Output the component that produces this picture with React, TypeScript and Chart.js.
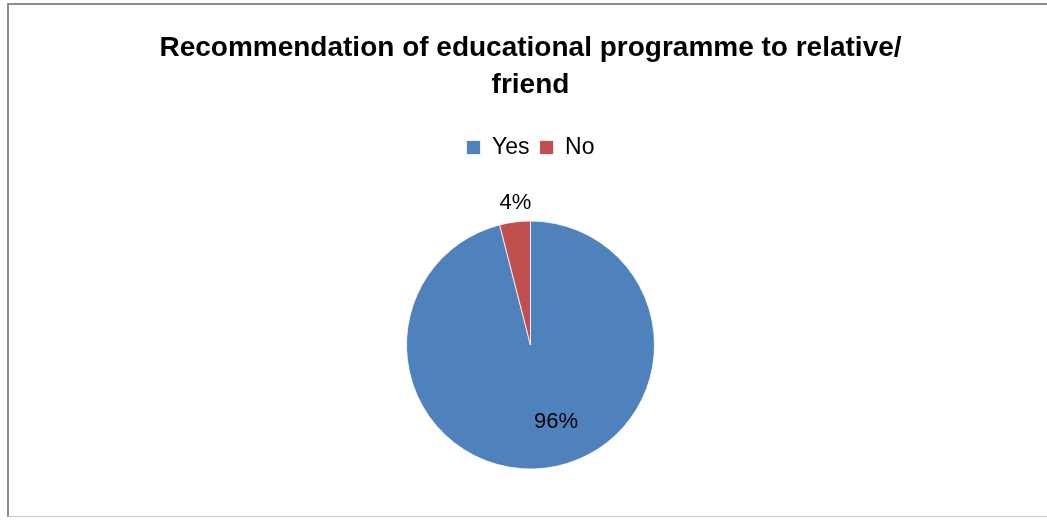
import React, { useEffect, useRef } from "react";
import { Chart, registerables } from "chart.js";

Chart.register(...registerables);

const categories = ["Yes", "No"];
const values = [96, 4];
const valueLabels = ["96%", "4%"];
const colors = ["#4F81BD", "#C0504D"];
const titleLines = ["Recommendation of educational programme to relative/", "friend"];

const FONT = "'Liberation Sans', Arial, sans-serif";

const labelPlugin = {
  id: "sliceLabels",
  afterDatasetsDraw(chart: any) {
    const { ctx } = chart;
    const meta = chart.getDatasetMeta(0);
    ctx.save();
    ctx.font = `22px ${FONT}`;
    ctx.fillStyle = "#000";
    ctx.textAlign = "center";
    ctx.textBaseline = "middle";
    meta.data.forEach((arc: any, i: number) => {
      const { x, y, startAngle, endAngle, outerRadius } = arc.getProps(
        ["x", "y", "startAngle", "endAngle", "outerRadius"],
        true
      );
      const mid = (startAngle + endAngle) / 2;
      let lx: number, ly: number;
      if (values[i] < 10) {
        const r = outerRadius + 20;
        lx = x + Math.cos(mid) * r + 3;
        ly = y + Math.sin(mid) * r + 1;
      } else {
        const r = outerRadius * 0.62;
        lx = x + Math.cos(mid) * r + outerRadius * 0.12 + 1;
        ly = y + Math.sin(mid) * r + 1;
      }
      ctx.fillText(valueLabels[i], lx, ly);
    });
    ctx.restore();
  },
};

export default function App() {
  const ref = useRef<HTMLCanvasElement | null>(null);
  useEffect(() => {
    if (!ref.current) return;
    const chart = new Chart(ref.current, {
      type: "pie",
      data: {
        labels: categories,
        datasets: [
          {
            data: values,
            backgroundColor: colors,
            borderColor: "#ffffff",
            borderWidth: 0.8,
          },
        ],
      },
      options: {
        responsive: false,
        animation: false,
        radius: 124,
        layout: { padding: { left: 14, bottom: 0 } },
        plugins: {
          tooltip: { enabled: false },
          title: {
            display: true,
            text: titleLines,
            color: "#000",
            font: { family: FONT, weight: "bold", size: 28, lineHeight: "37px" },
            padding: { top: 30, bottom: 22 },
          },
          legend: {
            display: true,
            position: "top",
            labels: {
              boxWidth: 14,
              boxHeight: 14,
              color: "#000",
              font: { family: FONT, size: 23 },
              padding: 10,
            },
          },
        },
      },
      plugins: [labelPlugin],
    } as any);
    return () => chart.destroy();
  }, []);

  return (
    <div
      style={{
        position: "fixed",
        left: 0,
        top: 0,
        width: 1047,
        height: 521,
        background: "#fff",
        overflow: "hidden",
      }}
    >
      <div
        style={{
          position: "absolute",
          left: 7,
          top: 3,
          width: 1045,
          height: 514,
          borderLeft: "2px solid #8c8c8c",
          borderTop: "2px solid #8c8c8c",
          borderBottom: "1px solid #cdcdcd",
          boxSizing: "border-box",
        }}
      />
      <canvas
        ref={ref}
        width={1047}
        height={521}
        style={{ position: "absolute", left: 0, top: 0, width: 1047, height: 521 }}
      />
    </div>
  );
}
